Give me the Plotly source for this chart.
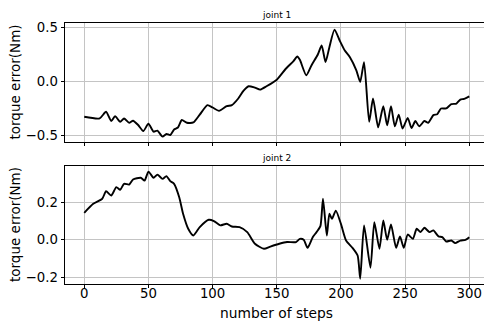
import plotly.graph_objects as go

# joint 1 torque error
steps1 = [0, 12, 17, 21, 24, 28, 31, 35, 38, 42, 46, 50, 54, 57, 61, 64, 67, 70, 73, 76,
          80, 85, 90, 96, 100, 105, 111, 115, 120, 124, 128, 133, 137, 142, 150, 157, 163, 166, 168, 173,
          177, 182, 185, 188, 191, 195, 199, 203, 207, 212, 215, 218, 222, 225, 229, 233, 236, 239, 242, 245,
          248, 252, 255, 258, 261, 265, 268, 272, 275, 278, 282, 286, 290, 293, 296, 300]
err1 = [-0.33, -0.345, -0.284, -0.37, -0.324, -0.377, -0.346, -0.386, -0.367, -0.407,
        -0.463, -0.395, -0.469, -0.46, -0.515, -0.49, -0.5, -0.448, -0.43, -0.36,
        -0.386, -0.383, -0.31, -0.222, -0.244, -0.275, -0.232, -0.222, -0.16, -0.09,
        -0.046, -0.059, -0.077, -0.046, 0.015, 0.117, 0.188, 0.231, 0.2, 0.056,
        0.148, 0.25, 0.333, 0.179, 0.318, 0.481, 0.38, 0.287, 0.225, 0.102,
        -0.006, 0.179, -0.377, -0.16, -0.429, -0.232, -0.41, -0.232, -0.42, -0.31,
        -0.44, -0.34, -0.435, -0.37, -0.42, -0.37, -0.386, -0.315, -0.306, -0.253,
        -0.253, -0.213, -0.207, -0.17, -0.164, -0.14]

# joint 2 torque error
steps2 = [0, 7, 14, 17, 21, 25, 28, 31, 35, 38, 44, 47, 50, 54, 57, 61, 64, 67, 70, 74,
          77, 81, 85, 90, 97, 101, 106, 111, 115, 121, 127, 133, 140, 145, 152, 158, 165, 168, 171, 174,
          178, 181, 184, 186, 189, 191, 193, 196, 200, 204, 209, 213, 215, 218, 223, 226, 230, 233, 236, 239,
          243, 246, 249, 252, 256, 259, 262, 265, 269, 272, 276, 279, 282, 286, 289, 293, 297, 300]
err2 = [0.144, 0.192, 0.219, 0.259, 0.236, 0.281, 0.267, 0.299, 0.295, 0.322,
        0.331, 0.316, 0.364, 0.331, 0.348, 0.325, 0.34, 0.313, 0.299, 0.227,
        0.139, 0.059, 0.023, 0.068, 0.107, 0.1, 0.077, 0.086, 0.071, 0.068,
        0.041, -0.021, -0.048, -0.036, -0.021, -0.012, -0.012, 0.005, 0.0, -0.043,
        0.014, 0.041, 0.073, 0.219, 0.023, 0.139, 0.112, 0.156, 0.085, -0.004,
        -0.043, -0.084, -0.208, 0.076, -0.149, 0.094, -0.048, 0.103, 0.0, 0.082,
        -0.043, 0.018, -0.043, 0.028, 0.005, 0.059, 0.041, 0.064, 0.041, 0.05,
        0.018, 0.014, -0.009, -0.004, -0.018, -0.004, 0.0, 0.014]

x_ticks = [0, 50, 100, 150, 200, 250, 300]
y1_ticks = [-0.5, 0.0, 0.5]
y1_labels = ["−0.5", "0.0", "0.5"]
y2_ticks = [-0.2, 0.0, 0.2]
y2_labels = ["−0.2", "0.0", "0.2"]

FONT = "DejaVu Sans"
line_style = dict(color="black", width=1.9, shape="spline", smoothing=0.6)
X_RANGE = [-15, 311.46]

fig = go.Figure()
fig.add_trace(go.Scatter(x=steps1, y=err1, xaxis="x", yaxis="y", mode="lines",
                         line=line_style, showlegend=False, hoverinfo="skip"))
fig.add_trace(go.Scatter(x=steps2, y=err2, xaxis="x2", yaxis="y2", mode="lines",
                         line=line_style, showlegend=False, hoverinfo="skip"))
# invisible helper trace so the label-only overlay axis is drawn
fig.add_trace(go.Scatter(x=[steps2[0]], y=[err2[0]], xaxis="x3", yaxis="y2", mode="lines",
                         line=dict(width=0), opacity=0, showlegend=False, hoverinfo="skip"))

xcommon = dict(range=X_RANGE, tickvals=x_ticks, ticks="outside", ticklen=3.5,
               tickcolor="black", tickwidth=0.8, showgrid=True, gridcolor="#c4c4c4",
               gridwidth=0.8, showline=True, linecolor="black", linewidth=0.9,
               mirror=True, zeroline=False)
ycommon = dict(ticks="outside", ticklen=3.5, tickcolor="black", tickwidth=0.8,
               showgrid=True, gridcolor="#c4c4c4", gridwidth=0.8, showline=True,
               linecolor="black", linewidth=0.9, mirror=False, zeroline=False)

fig.update_layout(
    width=484, height=323,
    margin=dict(l=65, r=0, t=23, b=39),
    paper_bgcolor="white", plot_bgcolor="white",
    font=dict(family=FONT, size=13.3, color="black"),
    xaxis=dict(domain=[0, 1], anchor="y", showticklabels=False, **xcommon),
    yaxis=dict(domain=[0.5441, 1.0], anchor="x", range=[-0.565, 0.543],
               tickvals=y1_ticks, ticktext=y1_labels, **ycommon),
    xaxis2=dict(domain=[0, 1], anchor="y2", showticklabels=False, **xcommon),
    xaxis3=dict(domain=[0, 1], anchor="y2", overlaying="x2", range=X_RANGE,
                tickvals=x_ticks, showticklabels=True, ticks="", showgrid=False,
                showline=False, zeroline=False, side="bottom"),
    yaxis2=dict(domain=[0, 0.4521], anchor="x2", range=[-0.236, 0.394],
                tickvals=y2_ticks, ticktext=y2_labels, **ycommon),
    annotations=[
        dict(text="joint 1", xref="paper", yref="paper", x=0.5036, y=1.0307,
             xanchor="center", yanchor="middle", showarrow=False, font=dict(size=9)),
        dict(text="joint 2", xref="paper", yref="paper", x=0.5036, y=0.4828,
             xanchor="center", yanchor="middle", showarrow=False, font=dict(size=9)),
        dict(text="torque error(Nm)", xref="paper", yref="y domain", x=-0.1193, y=0.5,
             xanchor="center", yanchor="middle", textangle=-90, showarrow=False,
             font=dict(size=13.5)),
        dict(text="torque error(Nm)", xref="paper", yref="y2 domain", x=-0.1193, y=0.5,
             xanchor="center", yanchor="middle", textangle=-90, showarrow=False,
             font=dict(size=13.5)),
        dict(text="number of steps", xref="paper", yref="paper", x=0.5048, y=-0.113,
             xanchor="center", yanchor="middle", showarrow=False, font=dict(size=13.8)),
    ],
)

fig.write_html("out.html")
